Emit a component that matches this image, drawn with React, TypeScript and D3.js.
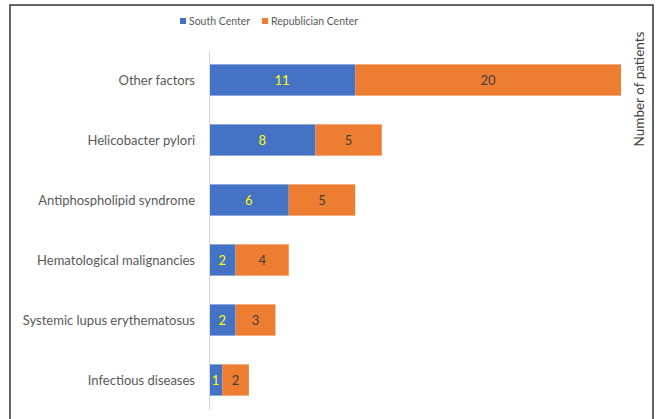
import * as d3 from "d3";

const categories = [
  "Other factors",
  "Helicobacter pylori",
  "Antiphospholipid syndrome",
  "Hematological malignancies",
  "Systemic lupus erythematosus",
  "Infectious diseases",
];
const southCenter = [11, 8, 6, 2, 2, 1];
const republicianCenter = [20, 5, 5, 4, 3, 2];
const seriesNames = ["South Center", "Republician Center"];
const colors = ["#4472C4", "#ED7D31"];
const labelColors = ["#FFFF00", "#404040"];

const W = 661;
const H = 419;
const FONT = "Lato, 'Open Sans', sans-serif";

export default function App() {
  const rows = categories.map((c, i) => ({
    name: c,
    south: southCenter[i],
    rep: republicianCenter[i],
  }));
  const stack = d3.stack<any>().keys(["south", "rep"])(rows);

  const x = d3.scaleLinear().domain([0, 31]).range([209, 621]);
  const y = d3
    .scaleBand()
    .domain(categories)
    .range([50, 410])
    .paddingInner(0.48)
    .paddingOuter(0.24);

  return (
    <svg
      width={W}
      height={H}
      style={{ position: "absolute", left: 0, top: 0, background: "#fff" }}
    >
      <rect x={10} y={5} width={643} height={430} fill="#fff" stroke="#333" strokeWidth={1.5} />

      {/* legend */}
      {seriesNames.map((s, i) => {
        const lx = [180, 262][i];
        return (
          <g key={s}>
            <rect x={lx} y={18} width={6} height={6} fill={colors[i]} />
            <text x={lx + 9} y={25} fontSize={10.5} fill="#595959" fontFamily={FONT}>
              {s}
            </text>
          </g>
        );
      })}

      {/* axis title */}
      <text
        transform={`translate(644,89) rotate(-90)`}
        textAnchor="middle"
        fontSize={13.5}
        fill="#404040"
        fontFamily={FONT}
      >
        Number of patients
      </text>

      {/* bars */}
      {stack.map((layer, li) =>
        layer.map((d, i) => {
          const x0 = x(d[0]);
          const x1 = x(d[1]);
          const yy = y(categories[i])!;
          return (
            <g key={`${li}-${i}`}>
              <rect x={x0} y={yy} width={x1 - x0} height={y.bandwidth()} fill={colors[li]} />
              <text
                x={(x0 + x1) / 2}
                y={yy + y.bandwidth() / 2}
                dy="0.35em"
                textAnchor="middle"
                fontSize={13}
                fill={labelColors[li]}
                fontFamily={FONT}
              >
                {d[1] - d[0]}
              </text>
            </g>
          );
        })
      )}

      {/* category axis */}
      <line x1={209.5} x2={209.5} y1={51} y2={410} stroke="#d9d9d9" strokeWidth={1} />
      {categories.map((c) => (
        <text
          key={c}
          x={195}
          y={y(c)! + y.bandwidth() / 2}
          dy="0.35em"
          textAnchor="end"
          fontSize={13}
          fill="#595959"
          fontFamily={FONT}
        >
          {c}
        </text>
      ))}
    </svg>
  );
}
